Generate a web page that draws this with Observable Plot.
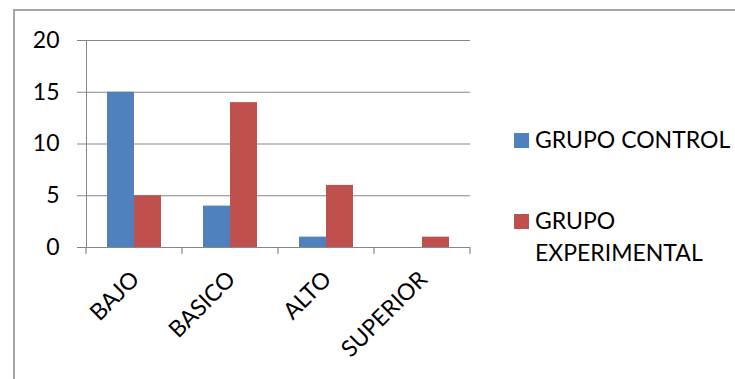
<!DOCTYPE html>
<html>
<head>
<meta charset="utf-8">
<script src="https://cdn.jsdelivr.net/npm/d3@7"></script>
<script src="https://cdn.jsdelivr.net/npm/@observablehq/plot@0.6"></script>
<style>
  html, body { margin: 0; padding: 0; background: #fff; overflow: hidden; width: 735px; height: 379px; }
  #wrap { position: relative; width: 735px; height: 379px; overflow: hidden; font-family: Lato, sans-serif; }
  .edge { position: absolute; background: #a6a6a6; }
  #edge-top { left: 13px; top: 9px; width: 722px; height: 2px; }
  #edge-left { left: 13px; top: 9px; width: 2px; height: 370px; }
  #chart { position: absolute; left: 0; top: 0; }
  #chart svg text { fill: #000; }
  .item { position: absolute; left: 514px; width: 215px; font-size: 23px; line-height: 32px; color: #000; }
  .swatch { position: absolute; left: 0; width: 15px; height: 15px; }
  .label { margin-left: 21px; width: 200px; }
</style>
</head>
<body>
<div id="wrap">
  <div class="edge" id="edge-top"></div>
  <div class="edge" id="edge-left"></div>
  <div id="chart"></div>
  <div id="legend"></div>
</div>
<script>
// Levels and the two groups compared
const categories = ["BAJO", "BASICO", "ALTO", "SUPERIOR"];
const groups = ["GRUPO CONTROL", "GRUPO EXPERIMENTAL"];
const control = [15, 4, 1, 0];
const experimental = [5, 14, 6, 1];
const colors = ["#4F81BD", "#C0504D"];
const yTicks = [0, 5, 10, 15, 20];

const rows = categories.flatMap((c, i) => [
  {category: c, group: groups[0], value: control[i]},
  {category: c, group: groups[1], value: experimental[i]}
]);

const gridColor = "#868686";

const plot = Plot.plot({
  width: 735,
  height: 379,
  marginLeft: 84,
  marginRight: 264,
  marginTop: 40,
  marginBottom: 132,
  style: {fontFamily: "Lato, sans-serif", fontSize: "23px", color: gridColor, background: "transparent", overflow: "visible"},
  fx: {domain: categories, padding: 0},
  x: {domain: groups, paddingInner: 0, paddingOuter: 0.766, axis: null},
  y: {domain: [0, 20], ticks: yTicks, tickSize: 9, tickPadding: 18, line: true, label: null},
  color: {domain: groups, range: colors},
  marks: [
    Plot.gridY(yTicks, {stroke: gridColor, strokeOpacity: 1, strokeWidth: 1.2}),
    Plot.barY(rows, {fx: "category", x: "group", y: "value", fill: "group"}),
    Plot.ruleY([0], {stroke: gridColor, strokeWidth: 1.2}),
    Plot.axisFx({anchor: "bottom", label: null, tickRotate: -45, tickSize: 0, tickPadding: 8, dy: 20, dx: 1, fontSize: 23})
  ]
});
document.getElementById("chart").appendChild(plot);

// Category separator ticks below the baseline, placed from the facet scale
const fx = plot.scale("fx");
const y = plot.scale("y");
const xs = categories.map(c => fx.apply(c));
xs.push(xs[xs.length - 1] + fx.bandwidth);
const y0 = y.apply(0);
d3.select(plot).append("g")
  .attr("stroke", gridColor)
  .attr("stroke-width", 1.2)
  .selectAll("line")
  .data(xs)
  .join("line")
  .attr("x1", d => d).attr("x2", d => d)
  .attr("y1", y0).attr("y2", y0 + 7);

// Legend
const legendTops = [123, 204];
const legend = d3.select("#legend");
groups.forEach((g, i) => {
  const item = legend.append("div").attr("class", "item").style("top", legendTops[i] + "px");
  item.append("div").attr("class", "swatch").style("top", "10px").style("background", colors[i]);
  item.append("div").attr("class", "label").text(g);
});
</script>
</body>
</html>
